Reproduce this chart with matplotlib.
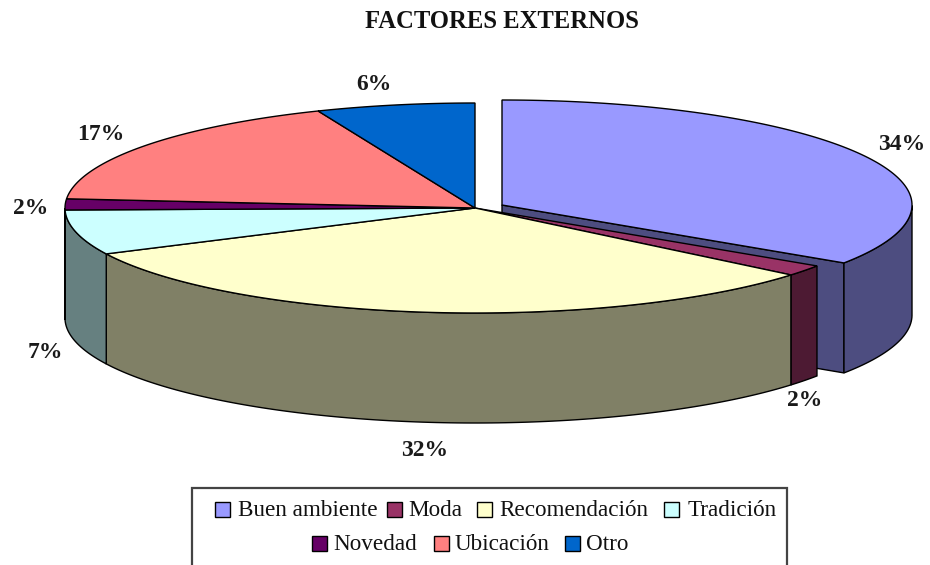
import numpy as np
import matplotlib
matplotlib.use('Agg')
import matplotlib.pyplot as plt
from matplotlib.patches import Polygon, Rectangle
from matplotlib.colors import to_rgb

categories = ['Buen ambiente', 'Moda', 'Recomendación', 'Tradición', 'Novedad', 'Ubicación', 'Otro']
values = [34.3, 1.7, 31.8, 6.9, 1.7, 17.35, 6.25]
colors = ['#9999FF', '#993366', '#FFFFCC', '#CCFFFF', '#660066', '#FF8080', '#0066CC']
explode = [27, 0, 0, 0, 0, 0, 0]	# sideways offset of a slice, pixels

# label positions (pixels)
label_x = [902, 805, 425, 45, 31, 101, 374]
label_y = [145, 401, 451, 353, 209, 134, 85]

# legend layout (pixels): square x, text x, row y
legend_sq = [215, 387, 477, 664, 312, 434, 565]
legend_tx = [238, 408, 499, 688, 333, 455, 586]
legend_y = [509, 509, 509, 509, 543, 543, 543]

cx, cy = 475, 208
rx, ry = 410, 105
depth = 110

plt.rcParams['font.family'] = ['Liberation Serif', 'DejaVu Serif']
fig = plt.figure(figsize=(9.3, 5.65), dpi=100)
ax = fig.add_axes([0, 0, 1, 1])
ax.set_xlim(0, 930)
ax.set_ylim(565, 0)
ax.axis('off')

def point(ang, x0, y0):
	return x0 + rx*np.sin(ang), y0 - ry*np.cos(ang)

def dark(col):
	return tuple(c*0.5 for c in to_rgb(col))

edges = np.concatenate([[0], np.cumsum(values)]) / np.sum(values) * 2*np.pi

for i in range(len(values)):
	a0, a1 = edges[i], edges[i+1]
	x0 = cx + explode[i]
	y0 = cy - 3 if explode[i] else cy
	t = np.linspace(a0, a1, 120)
	xs, ys = point(t, x0, y0)

	# cut face of the pulled out slice
	if explode[i]:
		ax.add_patch(Polygon([(x0, y0), (xs[-1], ys[-1]), (xs[-1], ys[-1]+depth), (x0, y0+depth)],
			fc=dark(colors[i]), ec='black', lw=1, zorder=1))

	# outer wall, only the front half of the ellipse shows
	front = np.cos(t) <= 0
	if front.any():
		fx, fy = xs[front], ys[front]
		wall = np.column_stack([np.r_[fx, fx[::-1]], np.r_[fy, fy[::-1]+depth]])
		ax.add_patch(Polygon(wall, fc=dark(colors[i]), ec='black', lw=1, zorder=2))

	# top
	top = np.column_stack([np.r_[x0, xs], np.r_[y0, ys]])
	ax.add_patch(Polygon(top, fc=colors[i], ec='black', lw=1, zorder=3))

	ax.text(label_x[i], label_y[i], '%d%%' % round(values[i]), fontsize=17, fontweight='bold',
		ha='center', va='center', color='#1a1a1a', zorder=5)

ax.text(502, 22, 'FACTORES EXTERNOS', fontsize=17.7, fontweight='bold', ha='center', va='center', color='#111111')

# legend box runs off the bottom of the picture
ax.add_patch(Rectangle((192, 488), 595, 90, fc='white', ec='#444444', lw=1.6, zorder=4))
for i in range(len(categories)):
	ax.add_patch(Rectangle((legend_sq[i], legend_y[i]-7.5), 15, 15, fc=colors[i], ec='black', lw=1, zorder=5))
	ax.text(legend_tx[i], legend_y[i]+1.5, categories[i], fontsize=16.7, ha='left', va='center', color='#111111', zorder=5)

fig.savefig('out.png', dpi=100)
